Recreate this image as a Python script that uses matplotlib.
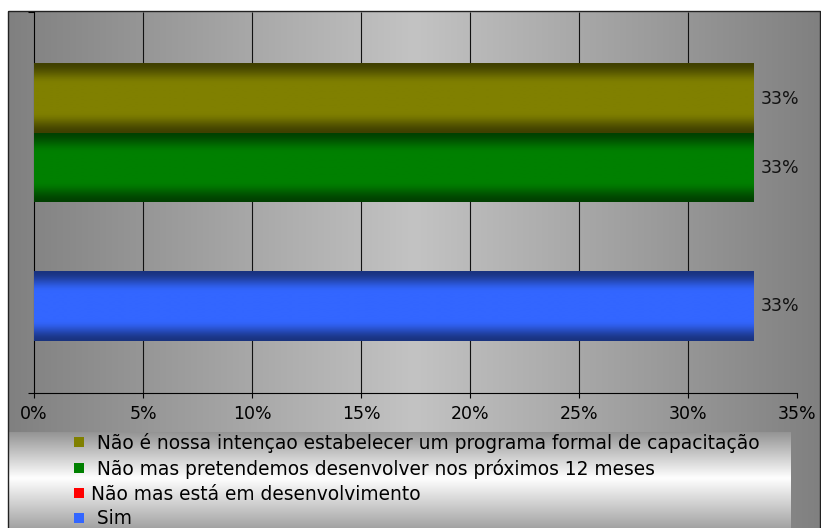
import matplotlib.pyplot as plt
from matplotlib.patches import Rectangle
import numpy as np

# series drawn bottom -> top
labels = [' Sim',
          'Não mas está em desenvolvimento',
          ' Não mas pretendemos desenvolver nos próximos 12 meses',
          ' Não é nossa intençao estabelecer um programa formal de capacitação']
values = [33, 0, 33, 33]
colors = ['#3366ff', '#ff0000', '#008000', '#808000']
xticks = [0, 5, 10, 15, 20, 25, 30, 35]

W, H = 821, 528
plt.rcParams['font.family'] = 'DejaVu Sans'

fig = plt.figure(figsize=(W / 100, H / 100), dpi=100)

# background in pixel coords
bg = fig.add_axes([0, 0, 1, 1], zorder=-1)
bg.set_xlim(0, W)
bg.set_ylim(H, 0)
bg.axis('off')

t = np.linspace(0, 1, 400)
v = (128 + 67 * (1 - np.abs(2 * t - 1))) / 255
frame = np.dstack([v, v, v]).reshape(1, -1, 3)
bg.imshow(frame, extent=(8, 821, 540, 11), aspect='auto', interpolation='bilinear')

yy = np.linspace(432, 540, 300)
lv = np.where(yy < 478, 0.58 + 0.42 * (yy - 432) / 46, 1.0 - 0.36 * (yy - 478) / 50)
lv = np.clip(lv, 0, 1)
leg_bg = np.dstack([lv, lv, lv]).reshape(-1, 1, 3)
bg.imshow(leg_bg, extent=(8, 791, 540, 432), aspect='auto', interpolation='bilinear')
bg.add_patch(Rectangle((8, 11), 812, 530, fill=False, edgecolor='#222222', lw=1))
bg.set_xlim(0, W)
bg.set_ylim(H, 0)

# plot area
ax = fig.add_axes([34 / W, 1 - 393 / H, (797 - 34) / W, (393 - 12) / H])
ax.set_facecolor('none')

gap = 0.754
ylo, yhi = -0.5 - gap, 3.5 + gap

bars = ax.barh(range(len(values)), values, height=1.0, color=colors, edgecolor='none', zorder=2)


def shade(hexcol, n=200):
    rgb = np.array(plt.matplotlib.colors.to_rgb(hexcol))
    s = np.linspace(0, 1, n)
    d = np.minimum(s, 1 - s) / 0.3
    d = np.clip(d, 0, 1)
    d = d * d * (3 - 2 * d)
    f = 0.5 + 0.5 * d
    return (f[:, None] * rgb[None, :]).reshape(n, 1, 3)


for p, c, val in zip(bars.patches, colors, values):
    if val <= 0:
        continue
    x0, y0, w, h = p.get_x(), p.get_y(), p.get_width(), p.get_height()
    ax.imshow(shade(c), extent=(x0, x0 + w, y0, y0 + h), aspect='auto',
              interpolation='bilinear', zorder=3)
    ax.annotate(f'{val}%', xy=(x0 + w, y0 + h / 2), xytext=(5, 0),
                textcoords='offset points', va='center', ha='left',
                fontsize=12.5, color='#111111', zorder=4)

ax.vlines(xticks[1:-1], ylo, yhi, colors='#111111', lw=0.8, zorder=1)

ax.set_xlim(0, 35)
ax.set_ylim(ylo, yhi)
ax.set_xticks(xticks)
ax.set_xticklabels([f'{x}%' for x in xticks])
ax.set_yticks([ylo, yhi])
ax.set_yticklabels([])
ax.tick_params(axis='x', direction='out', length=3.6, width=0.8, pad=5,
               labelsize=12.5, colors='black')
ax.tick_params(axis='y', direction='out', length=4.3, width=0.8)
for s in ['top', 'right']:
    ax.spines[s].set_visible(False)
for s in ['left', 'bottom']:
    ax.spines[s].set_color('black')
    ax.spines[s].set_linewidth(0.8)

h = list(bars.patches)[::-1]
fig.legend(h, labels[::-1], loc='upper left', bbox_to_anchor=(74 / W, 1 - 433 / H),
           frameon=False, borderpad=0, borderaxespad=0, handlelength=0.54,
           handleheight=0.44, handletextpad=0.37, labelspacing=0.31, fontsize=13.4)

plt.savefig('out.png', dpi=100)
